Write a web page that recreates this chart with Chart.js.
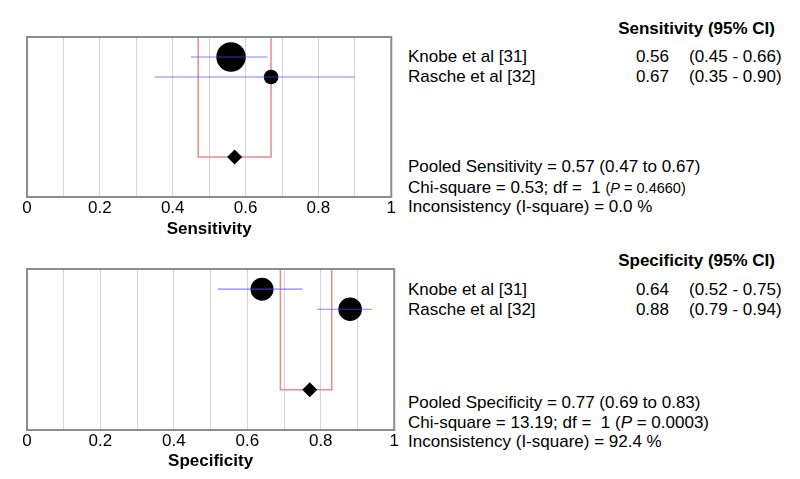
<!DOCTYPE html>
<html>
<head>
<meta charset="utf-8">
<script src="https://cdn.jsdelivr.net/npm/chart.js@4.4.1/dist/chart.umd.min.js"></script>
<style>
  body { margin: 0; background: #fff; }
  #page { position: relative; width: 800px; height: 479px; overflow: hidden;
          font-family: "Liberation Sans", Arial, sans-serif; color: #000; }
  .box { position: absolute; left: 0; width: 406px; height: 240px; }
  .txt { position: absolute; font-size: 17px; line-height: 20px; white-space: nowrap; }
  .b { font-weight: bold; }
</style>
</head>
<body>
<div id="page">
  <div class="box" style="top:0"><canvas id="sensChart"></canvas></div>
  <div class="box" style="top:240px"><canvas id="specChart"></canvas></div>
</div>
<script>
// === DATA ===
const studies = ["Knobe et al [31]", "Rasche et al [32]"];
const xTickLabels = ["0", "0.2", "0.4", "0.6", "0.8", "1"];

const sensValue = [0.56, 0.67];
const sensLow = [0.45, 0.35];
const sensHigh = [0.66, 0.90];
const sensPooled = [0.57, 0.47, 0.67];   // estimate, low, high
const sensChi = "0.53";
const sensP = "0.4660";
const sensI2 = "0.0";

const specValue = [0.64, 0.88];
const specLow = [0.52, 0.79];
const specHigh = [0.75, 0.94];
const specPooled = [0.77, 0.69, 0.83];
const specChi = "13.19";
const specP = "0.0003";
const specI2 = "92.4";

// row positions on the y scale (0 = top of plot, 8 = bottom)
const studyRows = [1, 2];
const pooledRow = 6;

// frame round the plot area
const framePlugin = {
  id: "frame",
  afterDraw(chart) {
    const a = chart.chartArea, ctx = chart.ctx;
    ctx.save();
    ctx.strokeStyle = "#8c8c8c";
    ctx.lineWidth = 2;
    ctx.strokeRect(a.left, a.top, a.right - a.left, a.bottom - a.top);
    ctx.restore();
  }
};

function makeForest(id, title, value, low, high, pooled, radii, opts) {
  const datasets = [];

  // pooled diamond
  datasets.push({
    data: [{ x: pooled[0], y: pooledRow }],
    pointStyle: "rectRot", pointRadius: 7.5,
    backgroundColor: "#000", borderColor: "#000", borderWidth: 0,
    order: 0
  });

  // confidence intervals
  value.forEach((v, i) => {
    datasets.push({
      data: [{ x: low[i], y: studyRows[i] }, { x: high[i], y: studyRows[i] }],
      showLine: true, pointRadius: 0,
      borderColor: "rgba(80, 80, 240, 0.7)", borderWidth: 1.2,
      order: 1
    });
  });

  // study estimates
  datasets.push({
    data: value.map((v, i) => ({ x: v, y: studyRows[i] })),
    pointStyle: "circle", pointRadius: radii,
    backgroundColor: "#000", borderColor: "#000", borderWidth: 0,
    order: 2
  });

  // pooled interval bracket
  datasets.push({
    data: [{ x: pooled[1], y: 0 }, { x: pooled[1], y: pooledRow },
           { x: pooled[2], y: pooledRow }, { x: pooled[2], y: 0 }],
    showLine: true, pointRadius: 0,
    borderColor: "#ee8a8a", borderWidth: 1.5,
    order: 3
  });

  return new Chart(document.getElementById(id), {
    type: "scatter",
    data: { datasets },
    options: {
      responsive: true,
      maintainAspectRatio: false,
      animation: false,
      events: [],
      layout: { padding: { left: 27, right: 8, top: opts.top, bottom: 0 } },
      plugins: { legend: { display: false }, tooltip: { enabled: false } },
      scales: {
        x: {
          type: "linear", min: 0, max: 1,
          afterFit(scale) {
            scale.height = opts.axisHeight;
          },
          grid: { color: "#d4d4d4", lineWidth: 1, drawTicks: false },
          border: { display: false },
          ticks: {
            stepSize: 0.1, padding: 1, color: "#000", maxRotation: 0, autoSkip: false,
            font: { family: "Liberation Sans", size: 17 },
            callback: (v, i) => (i % 2 === 0 ? xTickLabels[i / 2] : "")
          },
          title: {
            display: true, text: title, color: "#000",
            padding: { top: 0, bottom: opts.titleBottom },
            font: { family: "Liberation Sans", size: 17, weight: "bold" }
          }
        },
        y: { type: "linear", min: 0, max: 8, reverse: true, display: false }
      }
    },
    plugins: [framePlugin]
  });
}

makeForest("sensChart", "Sensitivity", sensValue, sensLow, sensHigh, sensPooled, [14.7, 7.3],
  { top: 37, axisHeight: 43, titleBottom: 0 });
makeForest("specChart", "Specificity", specValue, specLow, specHigh, specPooled, [11.5, 11.8],
  { top: 29, axisHeight: 50, titleBottom: 8 });

// === TEXT COLUMN ===
const page = document.getElementById("page");
function put(html, x, cy, align, cls) {
  const d = document.createElement("div");
  d.className = "txt" + (cls ? " " + cls : "");
  d.innerHTML = html;
  d.style.top = (cy - 10) + "px";
  if (align === "right") d.style.right = (800 - x) + "px";
  else d.style.left = x + "px";
  page.appendChild(d);
}

function textBlock(name, value, low, high, pooled, chi, p, i2, rows, smallP) {
  put(name + " (95% CI)", 775, rows[0], "right", "b");
  studies.forEach((s, i) => {
    put(s, 408, rows[1 + i], "left");
    put(value[i].toFixed(2), 669, rows[1 + i], "right");
    put("(" + low[i].toFixed(2) + " - " + high[i].toFixed(2) + ")", 689, rows[1 + i], "left");
  });
  put("Pooled " + name + " = " + pooled[0].toFixed(2) + " (" + pooled[1].toFixed(2) +
      " to " + pooled[2].toFixed(2) + ")", 408, rows[3], "left");
  const pText = "(<i>P</i> = " + p + ")";
  put("Chi-square = " + chi + "; df =&nbsp; 1 " +
      (smallP ? '<span style="font-size:14.5px">' + pText + "</span>" : pText), 408, rows[4], "left");
  put("Inconsistency (I-square) = " + i2 + " %", 408, rows[5], "left");
}

textBlock("Sensitivity", sensValue, sensLow, sensHigh, sensPooled, sensChi, sensP, sensI2,
  [28.5, 56.7, 77, 167, 188, 207], true);
textBlock("Specificity", specValue, specLow, specHigh, specPooled, specChi, specP, specI2,
  [260.7, 290, 310, 402.5, 422.5, 442], false);
</script>
</body>
</html>
